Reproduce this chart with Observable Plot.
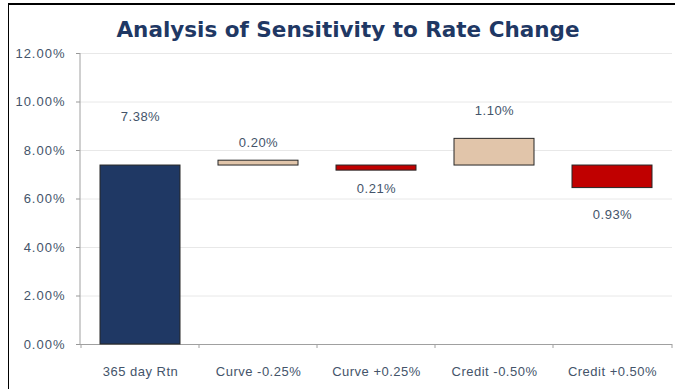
<!DOCTYPE html>
<html>
<head>
<meta charset="utf-8">
<script src="https://cdn.jsdelivr.net/npm/d3@7"></script>
<script src="https://cdn.jsdelivr.net/npm/@observablehq/plot@0.6"></script>
<style>
  body { margin: 0; background: #fff; }
  #chart { position: relative; width: 675px; height: 389px; overflow: hidden; }
  #chart svg { position: absolute; left: 0; top: 0; }
  #chart svg text { letter-spacing: 0.5px; }
  #chart svg g[aria-label="y-axis tick label"] text { letter-spacing: 1px; }
  #frame { position: absolute; left: 8px; top: 3px; width: 700px; height: 400px;
           border-top: 2px solid #000; border-left: 1px solid #000; pointer-events: none; }
  #title { position: absolute; left: 8px; width: 680px; top: 17px; text-align: center;
           font: bold 21.5px "DejaVu Sans", sans-serif; color: #1f3864; }
</style>
</head>
<body>
<div id="chart">
  <div id="title">Analysis of Sensitivity to Rate Change</div>
  <div id="frame"></div>
</div>
<script>
// Scenario labels along the x axis
const categories = ["365 day Rtn", "Curve -0.25%", "Curve +0.25%", "Credit -0.50%", "Credit +0.50%"];
// First entry is the base return; the rest are changes against that base (in %)
const changes = [7.38, 0.20, -0.21, 1.10, -0.93];
// Y axis ticks (in %)
const yTicks = [0, 2, 4, 6, 8, 10, 12];

const base = changes[0];
const rows = categories.map((c, i) => ({
  category: c,
  kind: i === 0 ? "base" : changes[i] >= 0 ? "up" : "down",
  y1: i === 0 ? 0 : base,
  y2: i === 0 ? base : base + changes[i],
  value: Math.abs(changes[i])
}));

// vertical offset of each value label from the bar end
const labelDy = [-49, -18, 18, -28, 27];
const fills = {base: "#1f3864", up: "#e1c5aa", down: "#c00000"};
const textColor = "#44546a";

const plot = Plot.plot({
  width: 675,
  height: 389,
  marginLeft: 80,
  marginRight: 3,
  marginTop: 53,
  marginBottom: 45,
  style: {fontFamily: "'Liberation Sans', Arial, sans-serif", fontSize: "13px", color: textColor, background: "transparent"},
  x: {domain: categories, paddingInner: 0.325, paddingOuter: 0.1625, label: null},
  y: {domain: [0, 12], label: null},
  marks: [
    Plot.gridY(yTicks, {stroke: "#e8e8e8", strokeOpacity: 1}),
    Plot.axisY(yTicks, {tickFormat: d => d.toFixed(2) + "%", tickSize: 4, tickPadding: 11, stroke: "#999", fill: textColor, label: null}),
    Plot.ruleY([0], {stroke: "#a0a0a0"}),
    Plot.barY(rows, {x: "category", y1: "y1", y2: "y2", fill: d => fills[d.kind], stroke: "#262626", strokeWidth: 1}),
    Plot.axisX({tickSize: 0, tickPadding: 22, fill: textColor, fontSize: 13, label: null}),
    ...rows.map((r, i) => Plot.text([r], {x: "category", y: "y2", text: d => d.value.toFixed(2) + "%", dy: labelDy[i], fill: textColor, fontSize: 13}))
  ]
});

// y axis line and band-edge ticks on the x axis, placed from the scales
const xs = plot.scale("x"), ys = plot.scale("y");
const svg = d3.select(plot);
const [x0, x1] = xs.range;
svg.append("line").attr("x1", x0).attr("x2", x0)
  .attr("y1", ys.apply(12)).attr("y2", ys.apply(0)).attr("stroke", "#a0a0a0");
const y0 = ys.apply(0);
const edges = categories.map(c => xs.apply(c) - (xs.step - xs.bandwidth) / 2).concat([x1]);
svg.append("g").selectAll("line").data(edges).join("line")
  .attr("x1", d => d).attr("x2", d => d).attr("y1", y0).attr("y2", y0 + 4).attr("stroke", "#a0a0a0");

document.getElementById("chart").prepend(plot);
</script>
</body>
</html>
